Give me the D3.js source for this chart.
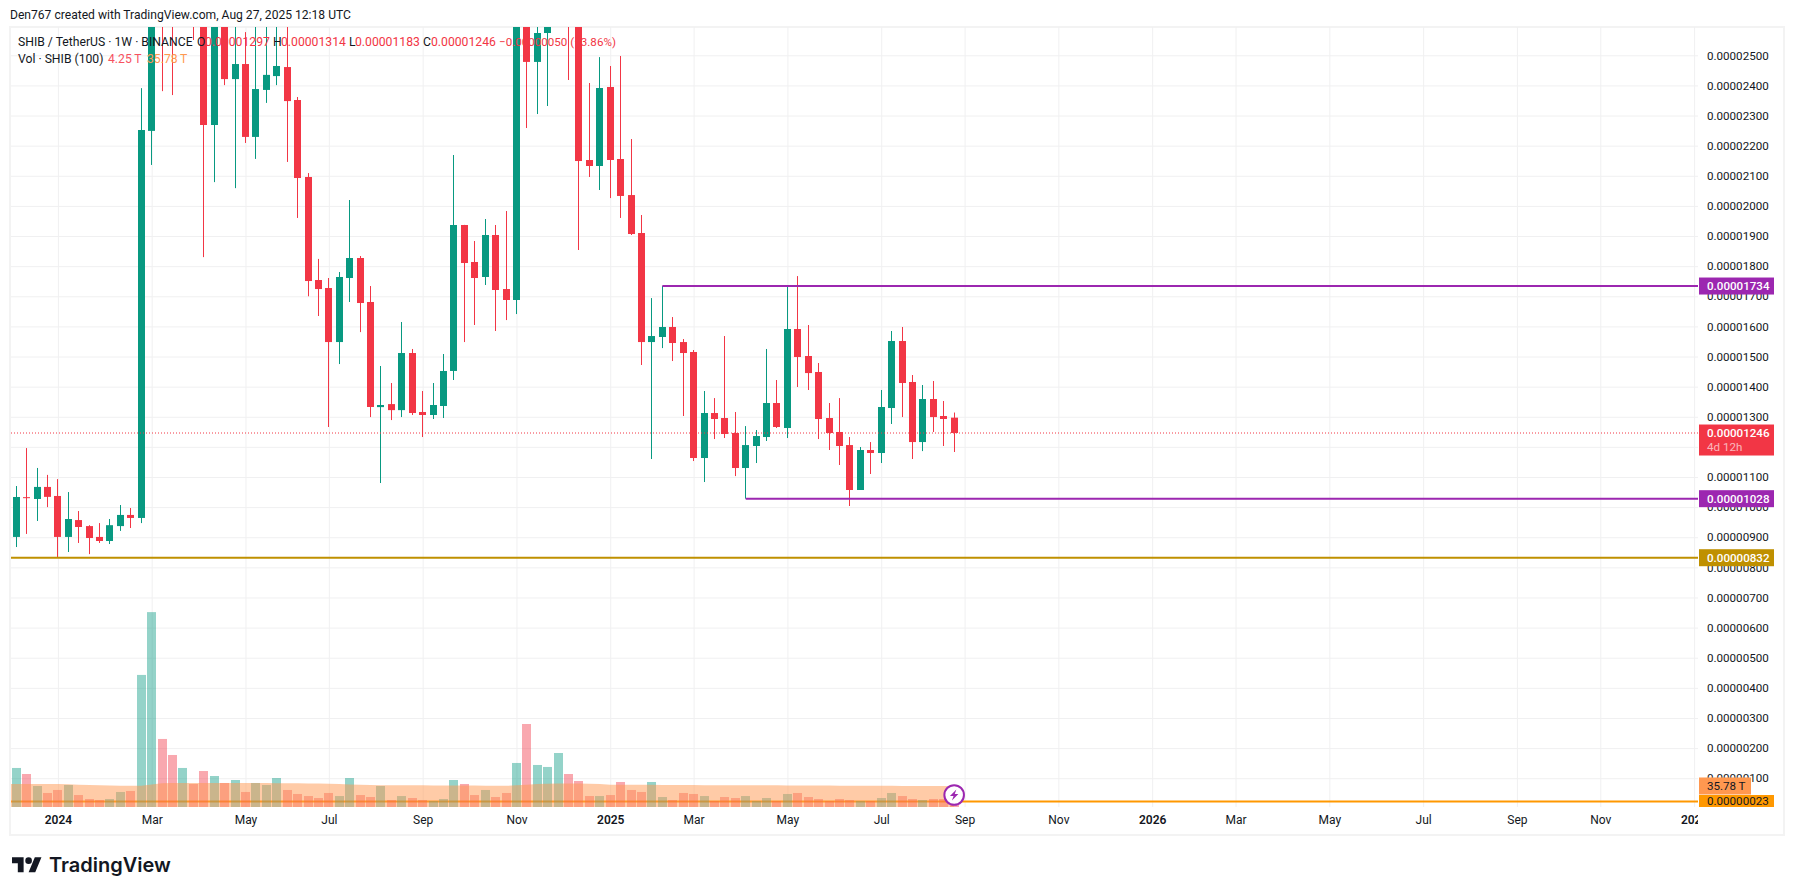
<!DOCTYPE html>
<html>
<head>
<meta charset="utf-8">
<script src="https://cdn.jsdelivr.net/npm/d3@7/dist/d3.min.js"></script>
<style>
  html, body { margin: 0; padding: 0; background: #fff; }
  svg { display: block; }
  text { font-family: Roboto, "Open Sans", sans-serif; fill: #131722; }
</style>
</head>
<body>
<div id="svgcontainer"></div>
<script>
// prices are in units of 0.00000001, volumes in trillions
const opens = [901,1033,1027,1067,1037,901,957,937,901,887.5,937,974,964,2249,3100,2800,3000,2800,2800,2268.6,2700,2421,2471,2229,2385,2431,2461,2351.6,2096,1754,1727.4,1548,1760.6,1827,1681,1332,1342,1322,1511.6,1315.8,1305.8,1335.7,1452,1936.6,1813.8,1764,1903.4,1724,1687.6,2650,2478,2574,2700,3000,2620,2152.4,2132.5,2394.8,2155.7,2036,1910,1548,1564.8,1598,1548,1515,1163,1312.4,1295.8,1246,1129.8,1202.9,1232.7,1345.6,1262.6,1591.3,1501.7,1448.6,1295.8,1249.4,1206,1056.8,1189.6,1179.6,1329,1551.5,1415.4,1216,1358.9,1302.5,1297];
const highs = [1070,1196,1130,1107,1093,1050,987,940,947,960.5,1007,997,2391,3000,3200,2900,3200,2900,2850,2750,2750,2650,2577,2650,2620,2620,2650,2361.5,2109,1824,1760.6,1780.5,2019.6,1833.6,1734,1468.5,1412,1614.6,1525,1385.5,1412,1508.3,2169,1937,1883.5,1956.5,1936.6,1983,3000,2700,2620,2700,2900,3050,2650,2408,2494,2464.5,2497.7,2222,1969.8,1694,1734,1631,1558,1521.6,1385.5,1362,1568,1315.8,1269,1256,1525,1422,1734,1767,1604.6,1478.4,1345.6,1362,1232.7,1199.5,1216,1388.8,1584.7,1598,1438.6,1405.4,1418.7,1352.3,1314];
const lows = [867.5,911,954,1000,834,851,881,844,881,877.5,921,930.6,947,2136,2381,2368,2700,2551,1830,2079,2401,2059,2209,2156,2342,2401,2146,1960,1700,1634.5,1266,1475,1681,1581,1299,1080,1289,1299,1305.8,1232.7,1292.5,1295.8,1422,1548,1604.6,1737.4,1584.7,1621,1641,2258.6,2305,2331.7,2620,2418,1853.6,2096,2052.8,2026,1960,1903.4,1471.8,1159.7,1528,1485,1302.5,1153,1083.3,1226,1229.4,1103,1028,1146.4,1219.5,1262.6,1229.4,1398.8,1388.8,1226,1189.6,1139.8,1003.7,1056.8,1110,1146.4,1276,1299,1159.7,1186,1249.4,1202.9,1183];
const closes = [1033.6,1032,1067,1034,901,960.5,934,897.4,887.5,940,974,964,2252,2900,2700,2650,3100,2650,2268.6,2700,2421,2471,2229,2388,2435,2464.5,2348,2092.6,1750.6,1724,1548,1764,1827,1677.6,1332.4,1339,1322,1511.6,1312.4,1305.8,1339,1451.9,1936.6,1810.4,1760.6,1903.4,1720.8,1687.6,2900,2478,2574,2610,2800,2650,2149,2132.5,2391.4,2152.4,2033,1906.7,1548,1568,1598,1544.8,1511.6,1163,1312.4,1292.5,1242.7,1129.8,1206,1236,1345.6,1266,1591.3,1498.3,1445,1292.5,1246,1202.9,1056.8,1189.6,1179.6,1332.4,1551.5,1412,1216,1358.9,1299,1292.5,1246];
const volumes = [66.5,56.2,35.8,23.9,29,37.5,20.4,13.6,11.9,13.6,25.6,27.3,225,332,115.9,88.6,66.5,39.2,61.3,52.8,40.9,46,25.6,40.9,37.5,49.4,29,22.2,18.7,15.3,23.9,18.7,49.4,20.4,17,35.8,11.9,18.7,15.3,11.9,10.2,13.6,46,39.2,20.4,29,17,23.9,75,141.4,71.6,68.2,92,56.2,44.3,18.7,18.7,20.4,42.6,29,25.6,42.6,17,11.9,23.9,22.2,18.7,10.2,17,15.3,18.7,10.2,15.3,10.2,22.2,23.9,17,13.6,10.2,13.6,11.9,10.2,10.2,15.3,23.9,18.7,13.6,11.9,13.6,13.6,4.25];
// one more point than the bars, it starts a week before the first one
const volumeMa = [39,39,39,39,39,39,38.6,38,37.5,37,36.5,36,36,36,38.5,40.5,41,41,41,41,41,41,41,41,40.9,40.9,40.5,40.5,40.5,40,40,39.5,39,38.5,38,37.5,37,37,37,37,37,36.5,36.5,36.5,36.5,36.5,36,36,36,37,38,39,39.5,40,40,40,39.5,39,38,38,38,38,38,37.5,37.5,37.5,37.5,37,37,37,37,37,37,37,37,36.5,36.5,36.5,36.5,36.5,36,36,36,36,36,36,35.8,35.8,35.8,35.8,35.8,35.78];

const priceTicks = d3.range(100, 2600, 100);
const tickIndex = [4,13,22,30,39,48,57,65,74,83,91,100,109,117,126,135,144,152,161];
const tickLabels = ["2024","Mar","May","Jul","Sep","Nov","2025","Mar","May","Jul","Sep","Nov","2026","Mar","May","Jul","Sep","Nov","2027"];
const yearLabels = ["2024","2025","2026","2027"];

const lastPrice = 1246, drawnHigh = 1734, drawnLow = 1028, supportLevel = 832, orangeLevel = 23;
const drawnHighStart = 62, drawnLowStart = 70;
const maLast = 35.78;

const UP = "#089981", DOWN = "#f23645", PURPLE = "#9c27b0", GOLD = "#bf9000", ORANGE = "#ff9800", MA_ORANGE = "#ff9850";
const GRID = "#f0f0f1", FRAME = "#f3f3f3";

const paneLeft = 11, paneRight = 1698, paneTop = 27, paneBottom = 807;
const axisTextX = 1707, labelX = 1699, labelW = 75;

const x = d3.scaleLinear().domain([0, 161]).range([16.2, 1694.1]);
const y = d3.scaleLinear().domain([100, 2500]).range([778.2, 55.3]);
const yVol = d3.scaleLinear().domain([0, 100]).range([paneBottom, 748.3]);

const svg = d3.select("#svgcontainer").append("svg").attr("width", 1794).attr("height", 895);

svg.append("defs").append("clipPath").attr("id", "pane").append("rect")
    .attr("x", paneLeft).attr("y", paneTop)
    .attr("width", paneRight - paneLeft).attr("height", paneBottom - paneTop);

svg.append("text").attr("x", 10).attr("y", 19).style("font-size", "12.1px")
    .text("Den767 created with TradingView.com, Aug 27, 2025 12:18 UTC");

svg.append("rect").attr("x", 10).attr("y", 27).attr("width", 1774).attr("height", 808)
    .attr("fill", "#fff").attr("stroke", FRAME).attr("stroke-width", 2);

/*
 * Grid, both directions come from the axes.
 */
const gridY = svg.append("g").attr("transform", `translate(${paneRight},0)`)
    .call(d3.axisLeft(y).tickValues(priceTicks).tickSize(paneRight - paneLeft).tickFormat(""));
const gridX = svg.append("g").attr("transform", `translate(0,${paneBottom})`)
    .call(d3.axisTop(x).tickValues(tickIndex).tickSize(paneBottom - paneTop).tickFormat(""));
[gridY, gridX].forEach(g => {
    g.select(".domain").remove();
    g.selectAll("line").attr("stroke", GRID).attr("stroke-width", 1);
});

const chart = svg.append("g").attr("clip-path", "url(#pane)");

/*
 * Levels drawn under the bars.
 */
function level(value, from, color, width) {
    chart.append("line").attr("x1", from).attr("x2", paneRight)
        .attr("y1", y(value)).attr("y2", y(value))
        .attr("stroke", color).attr("stroke-width", width);
}
level(orangeLevel, paneLeft, ORANGE, 2);

// volume
const volBars = d3.zip(volumes, opens, closes);
chart.append("g").selectAll("rect").data(volBars).join("rect")
    .attr("x", (d, i) => Math.floor(x(i)) - 4)
    .attr("width", 9)
    .attr("y", d => yVol(d[0]))
    .attr("height", d => yVol(0) - yVol(d[0]))
    .attr("fill", d => d[2] >= d[1] ? UP : DOWN)
    .attr("fill-opacity", 0.43);

const maArea = d3.area()
    .x((d, i) => x(i - 1))
    .y0(yVol(0))
    .y1(d => yVol(d));
chart.append("path").datum(volumeMa).attr("d", maArea)
    .attr("fill", MA_ORANGE).attr("fill-opacity", 0.5);

// candles
const candles = d3.zip(opens, highs, lows, closes);
const candle = chart.append("g").selectAll("g").data(candles).join("g")
    .attr("fill", d => d[3] >= d[0] ? UP : DOWN);
candle.append("rect")
    .attr("x", (d, i) => Math.floor(x(i)))
    .attr("width", 1)
    .attr("y", d => y(d[1]))
    .attr("height", d => y(d[2]) - y(d[1]));
candle.append("rect")
    .attr("x", (d, i) => Math.floor(x(i)) - 3)
    .attr("width", 7)
    .attr("y", d => y(Math.max(d[0], d[3])))
    .attr("height", d => Math.max(1, Math.abs(y(d[0]) - y(d[3]))));

// last price and drawn levels
chart.append("line").attr("x1", paneLeft).attr("x2", paneRight)
    .attr("y1", y(lastPrice)).attr("y2", y(lastPrice))
    .attr("stroke", DOWN).attr("stroke-width", 1).attr("stroke-dasharray", "1 2");
level(supportLevel, paneLeft, GOLD, 2);
level(drawnHigh, x(drawnHighStart), PURPLE, 2);
level(drawnLow, x(drawnLowStart), PURPLE, 2);

// alert badge at the last bar
const badge = svg.append("g").attr("transform", `translate(${x(volumes.length - 1)},795)`);
badge.append("circle").attr("r", 9.8).attr("fill", "#fff").attr("stroke", PURPLE).attr("stroke-width", 2);
badge.append("path").attr("d", "M2.2 -5.5L-4.2 1H-0.6L-2.2 5.5L4.2 -1H0.6Z").attr("fill", PURPLE);

/*
 * Axes.
 */
const priceAxis = svg.append("g").attr("transform", `translate(${axisTextX},0)`)
    .call(d3.axisRight(y).tickValues(priceTicks).tickSize(0).tickPadding(0)
        .tickFormat(p => (p * 1e-8).toFixed(8)));
priceAxis.select(".domain").remove();
priceAxis.selectAll("text").style("font-size", "11.6px").style("font-family", null);

svg.append("defs").append("clipPath").attr("id", "timeclip").append("rect")
    .attr("x", paneLeft).attr("y", paneBottom).attr("width", paneRight - paneLeft).attr("height", 27);
const timeAxis = svg.append("g").attr("clip-path", "url(#timeclip)").append("g")
    .attr("transform", `translate(0,${paneBottom})`)
    .call(d3.axisBottom(x).tickValues(tickIndex).tickSize(0).tickPadding(8)
        .tickFormat((d, i) => tickLabels[i]));
timeAxis.select(".domain").remove();
timeAxis.selectAll("text")
    .style("font-size", "12px").style("font-family", null)
    .style("font-weight", d => yearLabels.includes(tickLabels[tickIndex.indexOf(d)]) ? 600 : 400);

/*
 * Labels on the price scale.
 */
function priceLabel(value, color) {
    const cy = y(value);
    svg.append("rect").attr("x", labelX).attr("y", cy - 8.5).attr("width", labelW).attr("height", 17).attr("fill", color);
    svg.append("text").attr("x", axisTextX).attr("y", cy + 4).style("font-size", "11.6px").style("font-weight", 500).style("fill", "#fff")
        .text((value * 1e-8).toFixed(8));
}
priceLabel(drawnHigh, PURPLE);
priceLabel(drawnLow, PURPLE);
priceLabel(supportLevel, GOLD);

svg.append("rect").attr("x", labelX).attr("y", y(lastPrice) - 8.5).attr("width", labelW).attr("height", 31).attr("fill", DOWN);
svg.append("text").attr("x", axisTextX).attr("y", y(lastPrice) + 4).style("font-size", "11.6px").style("font-weight", 500).style("fill", "#fff")
    .text((lastPrice * 1e-8).toFixed(8));
svg.append("text").attr("x", axisTextX).attr("y", y(lastPrice) + 18).style("font-size", "11.6px").style("fill", "#fff").style("fill-opacity", 0.65)
    .text("4d 12h");

svg.append("rect").attr("x", labelX).attr("y", yVol(maLast) - 8.5).attr("width", 52).attr("height", 17).attr("fill", MA_ORANGE);
svg.append("text").attr("x", axisTextX).attr("y", yVol(maLast) + 4).style("font-size", "11.6px")
    .text(maLast + "\u2009T");

svg.append("defs").append("clipPath").attr("id", "orangeclip").append("rect")
    .attr("x", labelX).attr("y", y(orangeLevel) - 6.5).attr("width", labelW).attr("height", paneBottom - y(orangeLevel) + 6.5);
const orangeTag = svg.append("g").attr("clip-path", "url(#orangeclip)");
orangeTag.append("rect").attr("x", labelX).attr("y", y(orangeLevel) - 8.5).attr("width", labelW).attr("height", 17).attr("fill", ORANGE);
orangeTag.append("text").attr("x", axisTextX).attr("y", y(orangeLevel) + 4).style("font-size", "11.6px")
    .text((orangeLevel * 1e-8).toFixed(8));

/*
 * Legend.
 */
function legend(px, py, txt, color, size) {
    svg.append("text").attr("x", px).attr("y", py).style("font-size", (size || 12.2) + "px").style("fill", color).text(txt);
}
legend(18, 46, "SHIB / TetherUS \u00b7 1W \u00b7 BINANCE", "#131722");
legend(197, 46, "O", "#131722");
legend(205, 46, "0.00001297", DOWN);
legend(273, 46, "H", "#131722");
legend(281, 46, "0.00001314", DOWN);
legend(349, 46, "L", "#131722");
legend(355, 46, "0.00001183", DOWN);
legend(423, 46, "C", "#131722");
legend(431, 46, "0.00001246", DOWN);
legend(499, 46, "\u22120.00000050 (\u22123.86%)", DOWN, 11.6);
legend(18, 63, "Vol \u00b7 SHIB (100)", "#131722");
legend(108, 63, "4.25\u2009T", "#f7525f");
legend(147, 63, "35.78\u2009T", MA_ORANGE);

/*
 * TradingView mark.
 */
const logo = svg.append("g").attr("transform", "translate(12,854) scale(0.83)").attr("fill", "#131722");
logo.append("path").attr("d", "M14 22H7V11H0V4h14v18zM28 22h-8l7.5-18h8L28 22z");
logo.append("circle").attr("cx", 20).attr("cy", 8).attr("r", 4);
svg.append("text").attr("x", 49).attr("y", 872).style("font-family", "Inter").style("font-size", "20px").style("font-weight", 600)
    .text("TradingView");
</script>
</body>
</html>
